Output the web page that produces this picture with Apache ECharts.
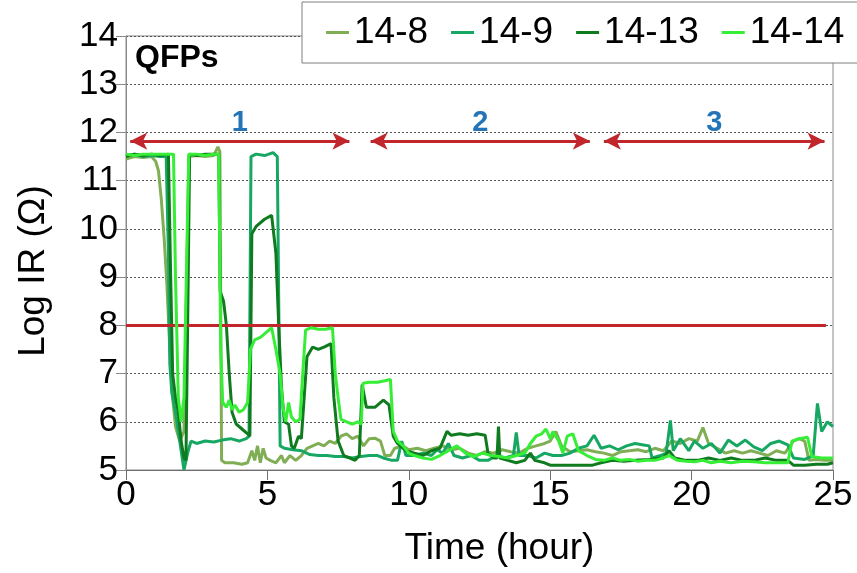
<!DOCTYPE html>
<html>
<head>
<meta charset="utf-8">
<script src="https://cdn.jsdelivr.net/npm/echarts@6/dist/echarts.min.js"></script>
<style>html,body{margin:0;padding:0;background:#fff}#c{width:857px;height:573px}</style>
</head>
<body>
<div id="c"></div>
<script>
var seriesNames = ['14-8', '14-9', '14-13', '14-14'];
var xTicks = [0, 5, 10, 15, 20, 25];
var yTicks = [5, 6, 7, 8, 9, 10, 11, 12, 13, 14];

var s14_8 = [[0,11.45],[0.3,11.5],[0.6,11.48],[0.9,11.5],[1.05,11.4],[1.15,11.2],[1.25,10.6],[1.35,9.8],[1.45,8.8],[1.55,7.5],[1.65,6.5],[1.75,5.9],[1.9,5.6],[2.05,5.8],[2.15,9],[2.22,11.5],[2.5,11.52],[2.8,11.5],[3.1,11.52],[3.25,11.7],[3.32,11.6],[3.38,5.2],[3.5,5.15],[3.8,5.15],[4.1,5.12],[4.3,5.15],[4.45,5.4],[4.55,5.2],[4.65,5.5],[4.75,5.15],[4.85,5.45],[4.95,5.25],[5.1,5.2],[5.3,5.15],[5.5,5.3],[5.6,5.15],[5.8,5.3],[6.0,5.2],[6.2,5.3],[6.4,5.45],[6.6,5.5],[6.8,5.55],[7.0,5.5],[7.2,5.6],[7.4,5.55],[7.6,5.7],[7.8,5.75],[8.0,5.65],[8.2,5.7],[8.4,5.5],[8.6,5.65],[8.8,5.66],[9.0,5.6],[9.15,5.3],[9.35,5.3],[9.5,5.45],[9.8,5.5],[10.0,5.42],[10.3,5.45],[10.6,5.4],[10.9,5.45],[11.2,5.5],[11.5,5.42],[11.8,5.45],[12.1,5.35],[12.4,5.3],[12.7,5.38],[13.0,5.35],[13.3,5.42],[13.6,5.38],[13.9,5.35],[14.2,5.45],[14.5,5.5],[14.8,5.55],[15.0,5.6],[15.2,5.8],[15.4,5.5],[15.7,5.38],[16.0,5.4],[16.3,5.42],[16.6,5.38],[16.9,5.35],[17.2,5.3],[17.5,5.38],[17.8,5.4],[18.1,5.42],[18.4,5.38],[18.7,5.45],[19.0,5.4],[19.3,5.6],[19.6,5.55],[19.9,5.65],[20.2,5.6],[20.4,5.88],[20.6,5.55],[20.9,5.45],[21.2,5.35],[21.5,5.4],[21.8,5.35],[22.1,5.4],[22.4,5.35],[22.7,5.3],[23.0,5.4],[23.3,5.35],[23.6,5.6],[23.8,5.65],[24.0,5.6],[24.15,5.2],[24.4,5.22],[24.7,5.2],[25,5.2]];

var s14_9 = [[0,11.52],[0.3,11.55],[0.6,11.5],[0.9,11.52],[1.2,11.5],[1.42,11.5],[1.5,9.5],[1.55,7.2],[1.62,6.6],[1.75,6.2],[1.85,5.8],[1.95,5.4],[2.05,5.0],[2.12,5.0],[2.2,5.4],[2.3,5.6],[2.5,5.55],[2.8,5.6],[3.1,5.58],[3.4,5.62],[3.7,5.65],[4.0,5.6],[4.25,5.65],[4.35,5.7],[4.42,11.5],[4.6,11.55],[4.9,11.52],[5.2,11.58],[5.35,11.5],[5.45,5.5],[5.6,5.45],[5.9,5.42],[6.2,5.4],[6.5,5.32],[6.8,5.3],[7.1,5.3],[7.4,5.28],[7.7,5.28],[8.0,5.25],[8.3,5.28],[8.6,5.3],[8.9,5.3],[9.1,5.25],[9.4,5.2],[9.6,5.2],[9.75,5.6],[9.9,5.3],[10.2,5.3],[10.5,5.35],[10.8,5.3],[11.0,5.42],[11.2,5.35],[11.4,5.55],[11.6,5.3],[11.9,5.25],[12.2,5.3],[12.5,5.2],[12.8,5.2],[13.1,5.3],[13.4,5.25],[13.7,5.3],[13.8,5.78],[13.9,5.3],[14.2,5.3],[14.5,5.25],[14.8,5.35],[15.1,5.3],[15.4,5.3],[15.7,5.35],[16.0,5.45],[16.3,5.5],[16.55,5.72],[16.8,5.45],[17.1,5.5],[17.4,5.42],[17.7,5.5],[18.0,5.55],[18.3,5.52],[18.5,5.5],[18.6,5.25],[18.9,5.3],[19.1,5.35],[19.25,6.03],[19.35,5.4],[19.6,5.65],[19.9,5.4],[20.1,5.6],[20.4,5.45],[20.7,5.55],[21.0,5.35],[21.3,5.62],[21.6,5.5],[21.9,5.62],[22.2,5.48],[22.5,5.4],[22.8,5.55],[23.1,5.6],[23.4,5.52],[23.6,5.25],[24.0,5.22],[24.3,5.3],[24.45,6.38],[24.6,5.8],[24.8,6.0],[25,5.9]];

var s14_13 = [[0,11.5],[0.3,11.55],[0.6,11.52],[0.9,11.55],[1.2,11.52],[1.5,11.55],[1.58,9],[1.65,7],[1.75,6.5],[1.85,6.2],[1.95,5.6],[2.05,5.25],[2.12,5.2],[2.18,8],[2.25,11.55],[2.5,11.52],[2.8,11.55],[3.1,11.55],[3.28,11.55],[3.33,8.7],[3.45,8.5],[3.55,8.0],[3.65,7.0],[3.75,6.2],[3.9,5.95],[4.1,5.85],[4.3,5.75],[4.38,5.7],[4.45,9.9],[4.6,10.05],[4.9,10.2],[5.15,10.28],[5.3,9.5],[5.4,8.0],[5.5,6.7],[5.6,6.0],[5.75,5.95],[5.85,5.5],[5.95,5.45],[6.1,5.7],[6.2,5.65],[6.3,6.5],[6.4,7.35],[6.6,7.55],[6.8,7.5],[7.0,7.55],[7.25,7.62],[7.35,6.5],[7.5,5.6],[7.7,5.3],[7.9,5.25],[8.1,5.2],[8.25,5.3],[8.35,6.77],[8.5,6.3],[8.8,6.3],[9.1,6.45],[9.3,6.35],[9.45,5.7],[9.6,5.55],[9.9,5.4],[10.2,5.35],[10.5,5.3],[10.8,5.4],[11.1,5.45],[11.35,5.8],[11.5,5.72],[11.8,5.75],[12.1,5.72],[12.4,5.75],[12.7,5.72],[12.8,5.35],[13.0,5.25],[13.12,5.25],[13.17,5.9],[13.22,5.25],[13.5,5.2],[13.8,5.15],[14.1,5.2],[14.3,5.35],[14.45,5.2],[14.8,5.15],[15.0,5.1],[15.5,5.1],[16.0,5.1],[16.5,5.1],[16.8,5.15],[17.2,5.2],[17.6,5.18],[18.0,5.2],[18.5,5.22],[19.0,5.25],[19.2,5.4],[19.4,5.25],[19.8,5.2],[20.2,5.2],[20.6,5.25],[21.0,5.2],[21.4,5.25],[21.8,5.2],[22.2,5.2],[22.6,5.25],[23.0,5.2],[23.4,5.2],[23.6,5.1],[24.0,5.1],[24.4,5.12],[24.8,5.12],[25,5.15]];

var s14_14 = [[0,11.55],[0.3,11.52],[0.6,11.55],[0.9,11.55],[1.2,11.55],[1.5,11.55],[1.68,11.55],[1.75,9],[1.85,6.5],[1.95,6.0],[2.05,6.5],[2.15,9.5],[2.22,11.55],[2.5,11.55],[2.8,11.52],[3.1,11.55],[3.28,11.55],[3.35,7.5],[3.42,6.4],[3.55,6.3],[3.65,6.45],[3.75,6.25],[3.85,6.35],[4.0,6.2],[4.15,6.25],[4.3,6.4],[4.4,7.5],[4.55,7.7],[4.75,7.75],[4.95,7.85],[5.15,7.95],[5.3,7.5],[5.45,7.0],[5.55,6.3],[5.65,6.0],[5.75,6.4],[5.85,6.1],[6.0,6.0],[6.15,6.05],[6.25,7.0],[6.35,7.9],[6.55,7.95],[6.8,7.92],[7.05,7.92],[7.3,7.95],[7.4,7.0],[7.5,6.5],[7.6,6.05],[7.8,6.0],[8.0,5.95],[8.2,6.0],[8.32,5.95],[8.38,6.8],[8.6,6.82],[8.9,6.82],[9.15,6.85],[9.35,6.88],[9.45,5.8],[9.6,5.6],[9.8,5.5],[10.0,5.35],[10.2,5.3],[10.5,5.25],[10.8,5.22],[11.1,5.3],[11.4,5.4],[11.7,5.5],[12.0,5.35],[12.3,5.28],[12.6,5.35],[12.9,5.3],[13.2,5.28],[13.5,5.25],[13.8,5.3],[14.1,5.35],[14.3,5.55],[14.5,5.7],[14.7,5.75],[14.85,5.85],[15.0,5.65],[15.1,5.8],[15.3,5.6],[15.45,5.35],[15.6,5.7],[15.8,5.75],[16.0,5.4],[16.3,5.3],[16.6,5.22],[16.9,5.2],[17.2,5.25],[17.5,5.2],[17.8,5.22],[18.1,5.18],[18.4,5.2],[18.7,5.2],[19.0,5.25],[19.2,5.3],[19.5,5.2],[19.8,5.18],[20.1,5.17],[20.4,5.2],[20.7,5.15],[21.0,5.18],[21.4,5.15],[21.8,5.18],[22.2,5.17],[22.6,5.15],[23.0,5.15],[23.4,5.15],[23.55,5.6],[23.8,5.65],[24.1,5.68],[24.25,5.28],[24.6,5.25],[25,5.25]];

var thresholdY = 8;
var thresholdXEnd = 24.75;
var stageLabels = ['1', '2', '3'];
var stageRanges = [[0.15, 7.9], [8.65, 16.4], [16.9, 24.7]];
var stageArrowY = 11.82;

var colors = ['#7fae55', '#16a862', '#0f7a1e', '#35ee35'];
var seriesData = [s14_8, s14_9, s14_13, s14_14];

var chart = echarts.init(document.getElementById('c'));
var FONT = 'Liberation Sans, Arial, sans-serif';

var series = seriesNames.map(function (n, i) {
  return {
    name: n, type: 'line', data: seriesData[i], showSymbol: false, symbol: 'none',
    lineStyle: { color: colors[i], width: 3 }, itemStyle: { color: colors[i] },
    z: 2 + i, animation: false
  };
});

var arrowLines = stageRanges.map(function (r, i) {
  return [
    { coord: [r[0], stageArrowY], symbol: 'arrow', label: { formatter: stageLabels[i] } },
    { coord: [r[1], stageArrowY], symbol: 'arrow' }
  ];
});

series.push({
  name: 'annot', type: 'line', data: [], animation: false, z: 10,
  markLine: {
    silent: true, animation: false,
    symbolSize: [13, 17],
    lineStyle: { color: '#c0262b', width: 3, type: 'solid' },
    label: { show: true, position: 'middle', distance: 4, color: '#2474b8', fontSize: 29, fontWeight: 'bold', fontFamily: FONT },
    data: arrowLines.concat([[
      { coord: [0, thresholdY], symbol: 'none', label: { show: false } },
      { coord: [thresholdXEnd, thresholdY], symbol: 'none' }
    ]])
  }
});

chart.setOption({
  animation: false,
  backgroundColor: '#fff',
  title: { text: 'QFPs', left: 130, top: 37, textStyle: { fontFamily: FONT, fontSize: 32, fontWeight: 'bold', color: '#000' } },
  legend: {
    data: seriesNames, left: 302, top: 2, width: 620, orient: 'horizontal',
    padding: [12, 18, 12, 24], itemGap: 23, itemWidth: 23, itemHeight: 3, icon: 'rect',
    borderColor: '#7f7f7f', borderWidth: 1, backgroundColor: '#fff',
    textStyle: { fontFamily: FONT, fontSize: 37, color: '#000', padding: [0, 0, 0, 0] }
  },
  grid: { left: 126, right: 24, top: 36, bottom: 103, show: true, borderColor: '#8a8a8a', borderWidth: 1 },
  xAxis: {
    type: 'value', min: 0, max: 25, interval: 5,
    name: 'Time (hour)', nameLocation: 'middle', nameGap: 60,
    nameTextStyle: { fontFamily: FONT, fontSize: 37, color: '#000', padding: [0, 0, 0, 40] },
    axisLine: { show: true, lineStyle: { color: '#6e6e6e', width: 1 } },
    axisTick: { show: true, inside: false, length: 10, lineStyle: { color: '#6e6e6e' } },
    axisLabel: { fontFamily: FONT, fontSize: 35, color: '#000', margin: 8 },
    splitLine: { show: false }
  },
  yAxis: {
    type: 'value', min: 5, max: 14, interval: 1,
    name: 'Log IR (\u03A9)', nameLocation: 'middle', nameGap: 74,
    nameTextStyle: { fontFamily: FONT, fontSize: 37, color: '#000', padding: [0, 36, 0, 0] },
    axisLine: { show: true, lineStyle: { color: '#8a8a8a', width: 1 } },
    axisTick: { show: true, inside: false, length: 10, lineStyle: { color: '#8a8a8a' } },
    axisLabel: { fontFamily: FONT, fontSize: 35, color: '#000', margin: 8 },
    splitLine: { show: true, lineStyle: { color: '#555', type: [2, 2], width: 1 } }
  },
  series: series
});
</script>
</body>
</html>
